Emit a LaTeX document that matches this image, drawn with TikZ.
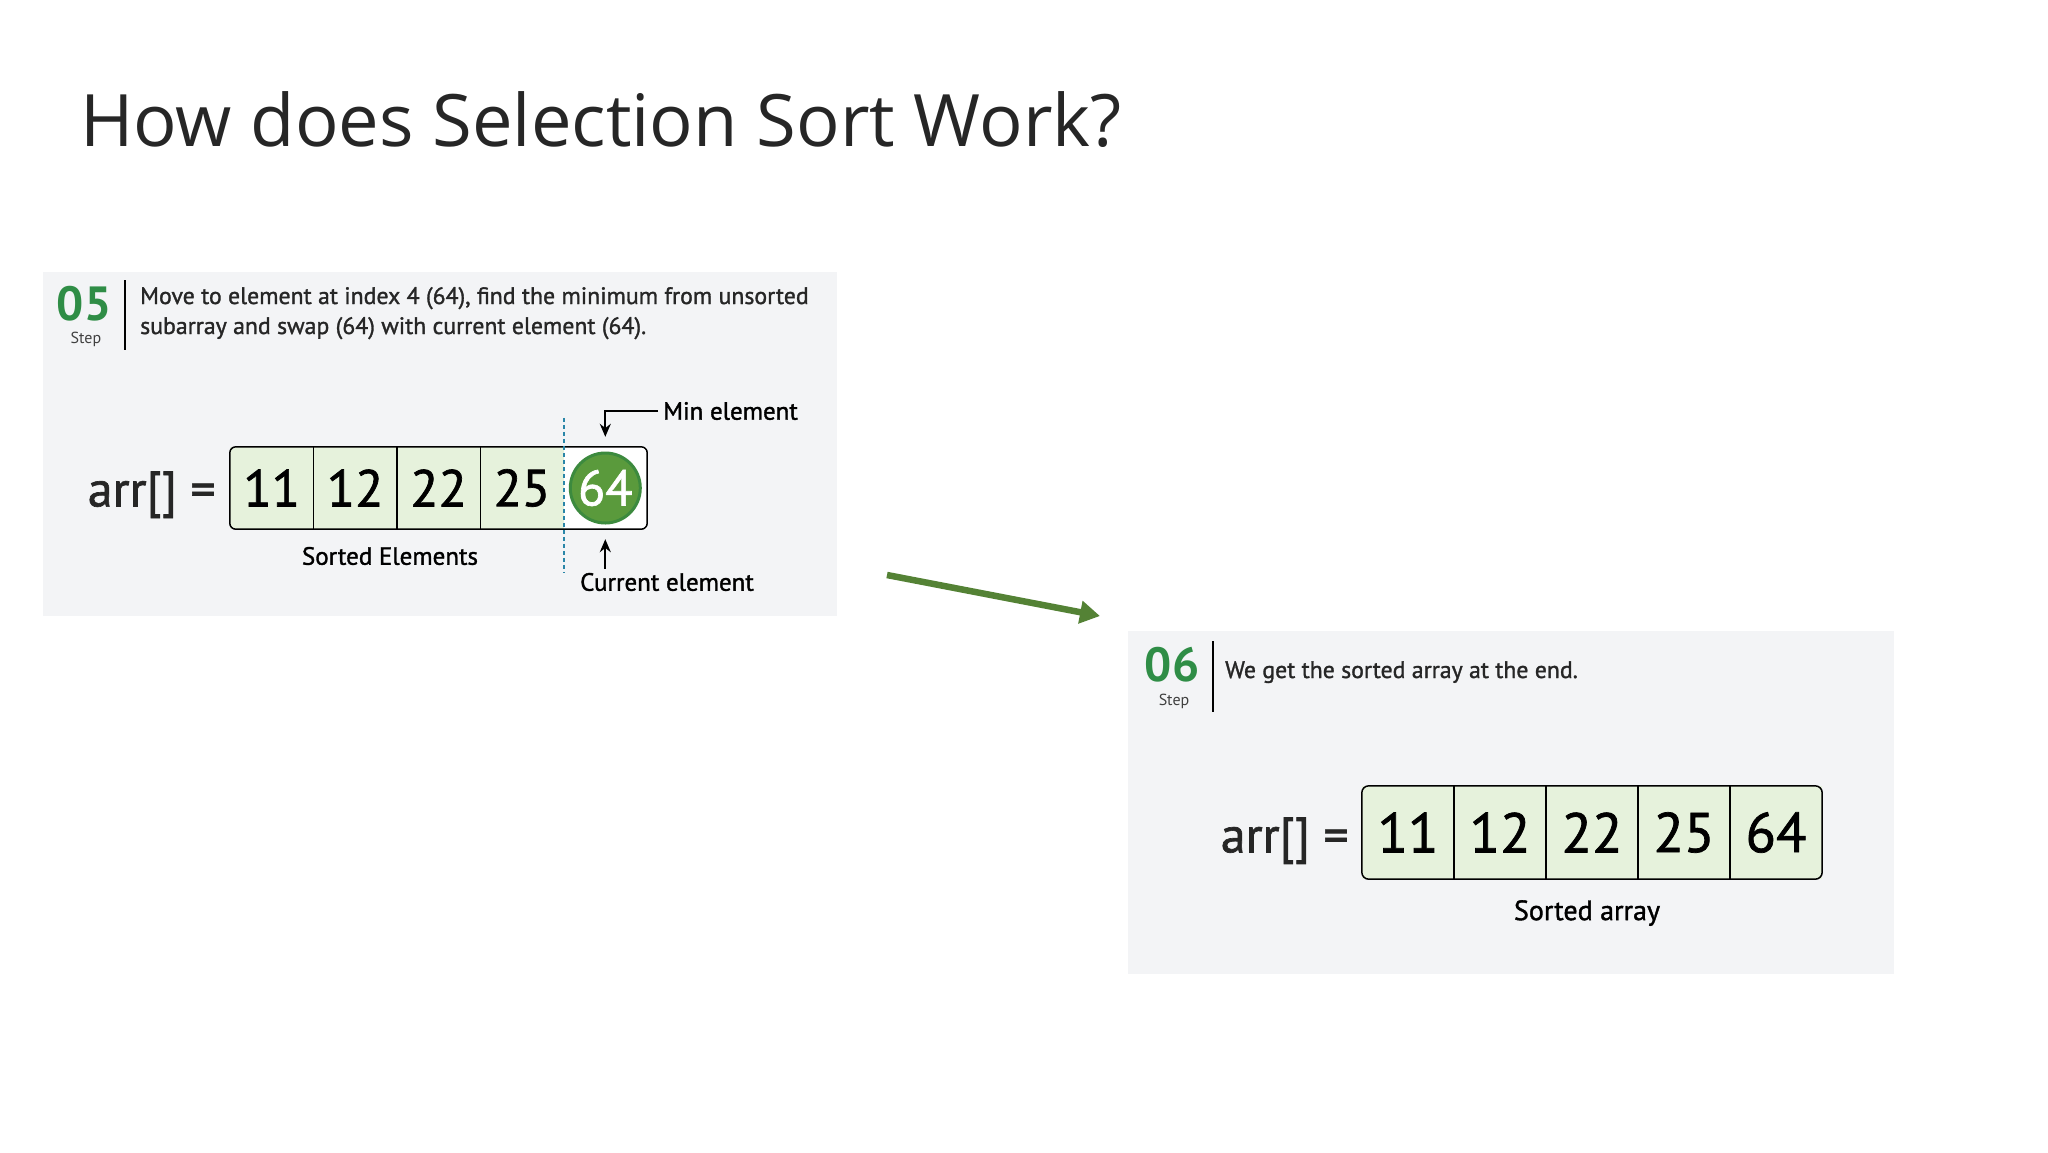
\documentclass[tikz,border=0pt]{standalone}
\usepackage{fontspec}
\setmainfont{PT Sans}
\newfontfamily\semifont[FakeBold=1.3]{PT Sans}
\newfontfamily\headfont{Open Sans}
\usetikzlibrary{arrows.meta,positioning,calc}
\definecolor{panelgray}{HTML}{F3F4F6}
\definecolor{cellgreen}{HTML}{E6F2DC}
\definecolor{stepgreen}{HTML}{2F8D46}
\definecolor{mingreen}{HTML}{5A9A3C}
\definecolor{minedge}{HTML}{3C8A3E}
\definecolor{arrowgreen}{HTML}{548235}
\definecolor{dashblue}{HTML}{2A86A8}

\begin{document}
\begin{tikzpicture}[
    x=1pt, y=-1pt,
    panel/.style={fill=panelgray},
    steplbl/.style={text=stepgreen, font=\bfseries\fontsize{48}{48}\selectfont, inner sep=0pt},
    stepword/.style={text=black!75, font=\fontsize{16}{16}\selectfont, inner sep=0pt},
    desc/.style={font=\semifont\fontsize{23.8}{30}\selectfont, align=left, inner sep=0pt,
                 text=black!85},
    arrlbl/.style={font=\semifont\fontsize{50}{50}\selectfont, inner sep=0pt, text=black!85},
    cellA/.style={minimum width=83.4pt, minimum height=82pt, inner sep=0pt,
                  fill=cellgreen, font=\semifont\fontsize{52}{52}\selectfont},
    cellB/.style={minimum width=92pt, minimum height=93pt, inner sep=0pt,
                  fill=cellgreen, font=\semifont\fontsize{56}{56}\selectfont},
    note/.style={font=\semifont\fontsize{25}{25}\selectfont, inner sep=0pt},
    pointer/.style={-{Stealth[length=13pt,width=11pt]}, line width=1.7pt},
    flow/.style={arrowgreen, line width=6.5pt, -{Triangle[length=20pt,width=22pt]}},
]
    \useasboundingbox[fill=white] (0,0) rectangle (2048,1152);

    % Title
    \node[anchor=base west, inner sep=0pt, font=\headfont\fontsize{72.3}{72}\selectfont,
          text=black!85] (title) at (80,146) {How does Selection Sort Work?};

    % Step 05 panel
    \fill[panel] (43,272) rectangle (837,616);
    \node[steplbl] (num5) at (84,304) {05};
    \node[stepword] (step5) at (86,339) {Step};
    \draw[line width=1.5pt] (125,280) -- (125,350);
    \node[desc, anchor=base west] (desc5) at (140,334)
        {Move to element at index 4 (64), find the minimum from unsorted\\
         subarray and swap (64) with current element (64).};

    % Array before the last swap
    \foreach \v [count=\i] in {11,12,22,25}
        \node[cellA] (a\i) at ({230+83.4*(\i-0.5)},488) {\v};
    \node[cellA, fill=white] (a5) at ({230+83.4*4.5},488) {};
    \node[circle, minimum size=70pt, inner sep=0pt, fill=mingreen, draw=minedge,
          line width=3pt, text=white, font=\semifont\fontsize{50}{50}\selectfont] (min64) at (a5) {64};
    \foreach \i in {1,2,3}
        \draw[line width=1.5pt] (a\i.north east) -- (a\i.south east);
    \draw[line width=1.5pt, rounded corners=6pt] (a1.north west) rectangle (a5.south east);
    \node[arrlbl, anchor=base east] (arr5) at ([xshift=-14pt]a1.base west) {arr[] =};
    \draw[dashblue, line width=1.4pt, dash pattern=on 4pt off 3pt]
        ($(a4.north east)+(0,-29)$) -- ($(a4.south east)+(0,43)$);

    % Labels and pointers
    \node[note, anchor=west] (minlbl) at (663,411) {Min element};
    \draw[pointer] ([xshift=-5pt]minlbl.west) -| ([yshift=10pt]a5.north);
    \node[note] (curlbl) at (667,582) {Current element};
    \draw[pointer] ([yshift=4pt]curlbl.north -| a5.south) -- ([yshift=-10pt]a5.south);
    \node[note] (sortlbl5) at (390,556) {Sorted Elements};

    % Arrow to the next step
    \coordinate (go1) at (887,575);
    \coordinate (go2) at (1100,616);
    \draw[flow] (go1) -- (go2);

    % Step 06 panel
    \fill[panel] (1128,631) rectangle (1894,974);
    \node[steplbl] (num6) at (1172,665) {06};
    \node[stepword] (step6) at (1174,701) {Step};
    \draw[line width=1.5pt] (1213,641) -- (1213,712);
    \node[desc, anchor=base west] (desc6) at (1225,678) {We get the sorted array at the end.};

    % Final sorted array
    \foreach \v [count=\i] in {11,12,22,25,64}
        \node[cellB] (b\i) at ({1362+92*(\i-0.5)},832.5) {\v};
    \foreach \i in {1,...,4}
        \draw[line width=1.5pt] (b\i.north east) -- (b\i.south east);
    \draw[line width=1.5pt, rounded corners=7pt] (b1.north west) rectangle (b5.south east);
    \node[arrlbl, anchor=base east] (arr6) at ([xshift=-13pt]b1.base west) {arr[] =};
    \node[note, font=\semifont\fontsize{28}{28}\selectfont] (sortlbl6) at (1587,913) {Sorted array};
\end{tikzpicture}
\end{document}
